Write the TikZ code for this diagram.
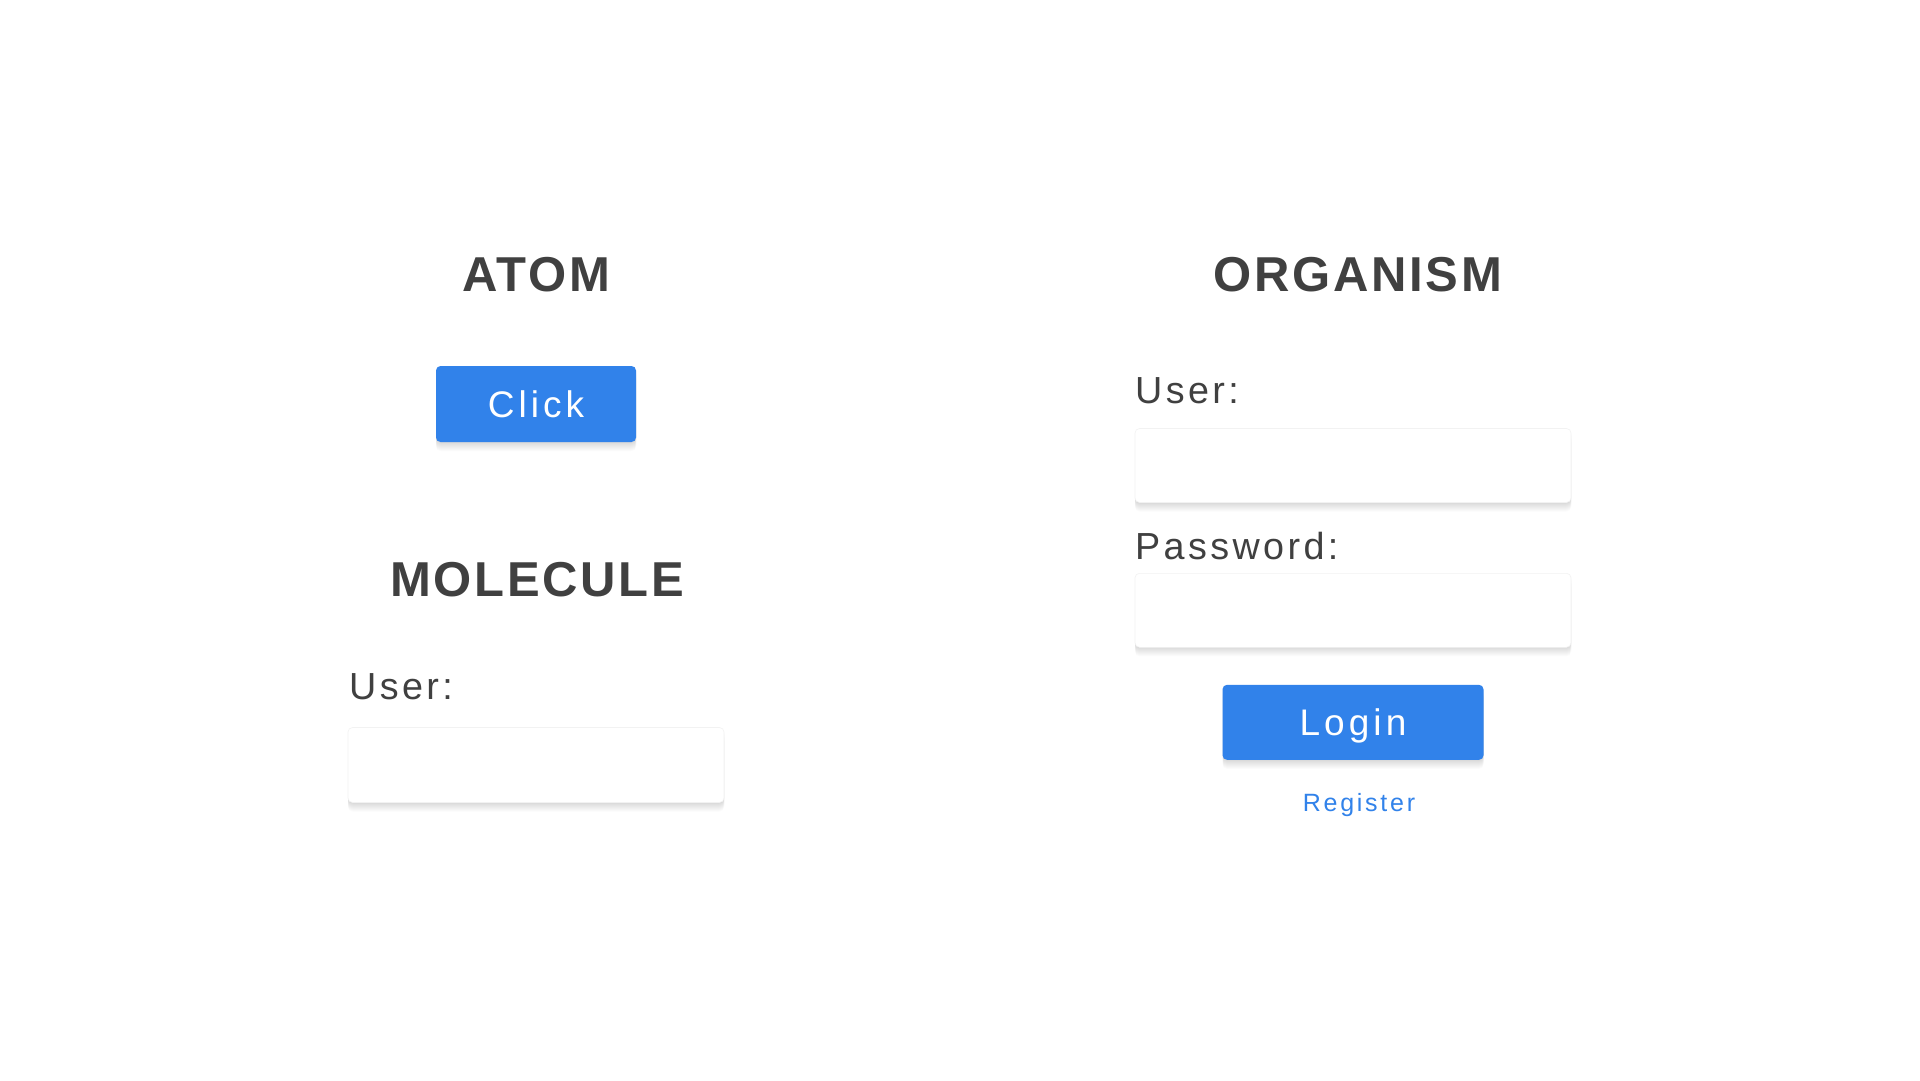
\documentclass[tikz,border=0pt]{standalone}
\usepackage{fontspec}
\setmainfont{Liberation Sans}
\newfontfamily\headfont[LetterSpace=5.5]{Liberation Sans}
\newfontfamily\labelfont[LetterSpace=9]{Liberation Sans}
\newfontfamily\buttonfont[LetterSpace=11]{Liberation Sans}
\definecolor{ink}{HTML}{404040}
\definecolor{btnblue}{HTML}{3182EA}
\begin{document}
\begin{tikzpicture}[x=1pt,y=-1pt,
    heading/.style={font=\headfont\bfseries\fontsize{49}{49}\selectfont,text=ink,anchor=base,inner sep=0pt},
    label/.style={font=\labelfont\fontsize{37.7}{38}\selectfont,text=ink,anchor=base west,inner sep=0pt},
    layer/.style={preaction={fill=black,fill opacity=0.016,transform canvas={yshift=-#1}}},
    soft/.style={layer=0.5pt,layer=1pt,layer=2pt,layer=3pt,layer=4pt,layer=5pt,layer=6pt,layer=7pt,layer=8pt,layer=9pt},
    field/.style={soft,fill=white,draw=black!5,line width=0.6pt,rounded corners=4.5pt,inner sep=0pt},
    button/.style={soft,fill=btnblue,text=white,rounded corners=4.5pt,inner sep=0pt,
        font=\buttonfont\fontsize{37}{37}\selectfont,text height=26.5pt,text depth=0pt},
    link/.style={font=\buttonfont\fontsize{25}{25}\selectfont,text=btnblue,anchor=base,inner sep=0pt}]

    \fill[white] (0,0) rectangle (1920,1080);
    \useasboundingbox (0,0) rectangle (1920,1080);

    % atom
    \node[heading] (atom) at (536,291) {ATOM};
    \node[button,minimum width=200pt,minimum height=76pt] (click) at (536,404) {Click};

    % molecule
    \node[heading] (molecule) at (537,596) {MOLECULE};
    \node[label] (muser) at (349,699) {User:};
    \node[field,minimum width=376pt,minimum height=75pt] (mfield) at (536,765) {};

    % organism
    \node[heading] (organism) at (1358,291) {ORGANISM};
    \node[label] (ouser) at (1135,403) {User:};
    \node[field,minimum width=436pt,minimum height=74pt] (ofield) at (1353,465.5) {};
    \node[label] (opass) at (1135,559) {Password:};
    \node[field,minimum width=436pt,minimum height=74pt] (pfield) at (1353,610.3) {};
    \node[button,minimum width=261pt,minimum height=75pt] (login) at (1353,722.3) {Login};
    \node[link] (register) at (1359,811.7) {Register};

\end{tikzpicture}
\end{document}
